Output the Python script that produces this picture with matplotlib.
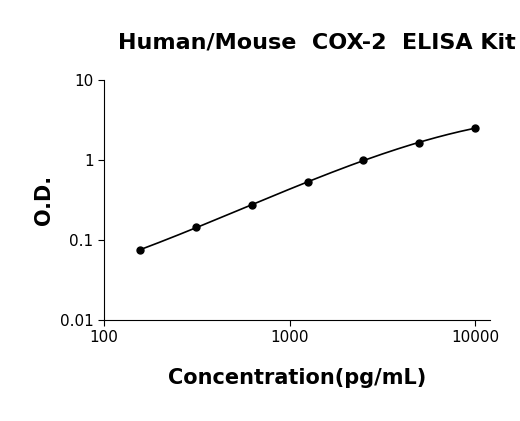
import numpy as np
import matplotlib
matplotlib.use("Agg")
import matplotlib.pyplot as plt

conc = [156.25, 312.5, 625, 1250, 2500, 5000, 10000]
od = [0.075, 0.145, 0.27, 0.53, 1.0, 1.65, 2.5]
title = "Human/Mouse  COX-2  ELISA Kit"

fig = plt.figure(figsize=(5.2, 4.21), dpi=100)
ax = fig.add_axes([0.2, 0.24, 0.742, 0.57])

# smooth fitted curve in log-log space
lx, ly = np.log10(conc), np.log10(od)
coef = np.polyfit(lx, ly, 3)
xs = np.linspace(lx[0], lx[-1], 200)
ax.plot(10**xs, 10**np.polyval(coef, xs), color="black", lw=1.2)
ax.plot(conc, od, "o", color="black", ms=5)

ax.set_xscale("log")
ax.set_yscale("log")
ax.set_xlim(100, 12000)
ax.set_ylim(0.01, 10)
ax.set_xticks([100, 1000, 10000])
ax.set_xticklabels(["100", "1000", "10000"])
ax.set_yticks([0.01, 0.1, 1, 10])
ax.set_yticklabels(["0.01", "0.1", "1", "10"])
ax.minorticks_off()
ax.spines["top"].set_visible(False)
ax.spines["right"].set_visible(False)
ax.tick_params(labelsize=11, direction="out", length=4)
ax.set_xlabel("Concentration(pg/mL)", fontsize=15, fontweight="bold", labelpad=16)
ax.set_ylabel("O.D.", fontsize=15, fontweight="bold")
fig.text(0.61, 0.885, title, ha="center", fontsize=16, fontweight="bold")

fig.savefig("out.png", dpi=100)
